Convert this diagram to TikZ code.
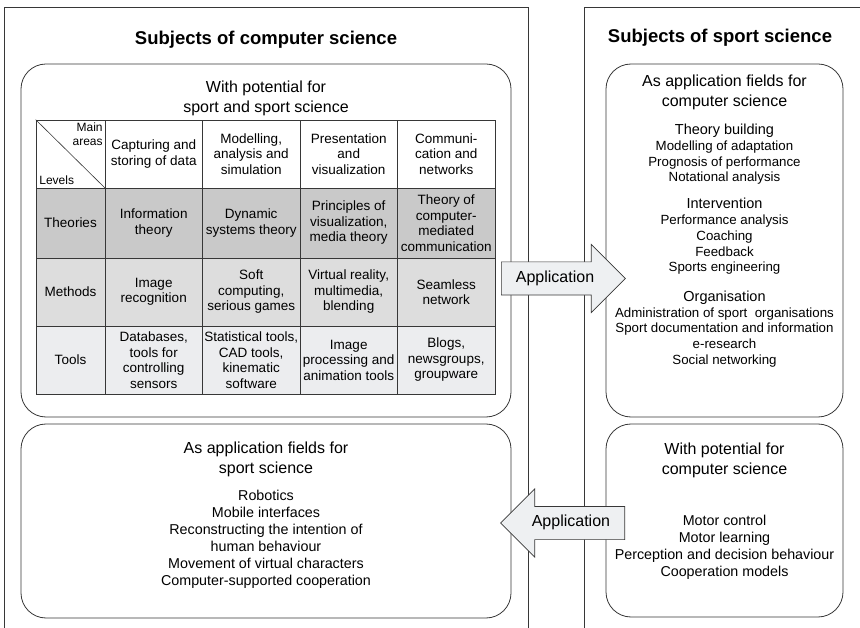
\documentclass[tikz,border=0pt]{standalone}
\usepackage{fontspec}
\setmainfont{Liberation Sans}
\usepackage{tikz}
\usetikzlibrary{shapes.arrows}
\definecolor{linegray}{RGB}{55,55,55}
\definecolor{theorygray}{RGB}{201,201,201}
\definecolor{methodgray}{RGB}{221,221,221}
\definecolor{toolgray}{RGB}{236,237,239}
\definecolor{arrowgray}{RGB}{238,240,242}
\newcommand{\titlefont}{\fontsize{18.5}{22}\bfseries\selectfont}
\newcommand{\headfont}{\fontsize{16}{20}\selectfont}
\newcommand{\cellfont}{\fontsize{13.5}{15.5}\selectfont}
\newcommand{\cornerfont}{\fontsize{12}{14}\selectfont}
\newcommand{\itemfont}{\fontsize{14.3}{17}\selectfont}
\newcommand{\smallitemfont}{\fontsize{13.3}{15.7}\selectfont}
\newcommand{\groupfont}{\fontsize{14.5}{15.7}\selectfont}

\begin{document}
\begin{tikzpicture}[
    x=1pt, y=-1pt,
    frame/.style={draw=linegray, line width=0.7pt},
    area/.style={draw=linegray, line width=0.8pt, rounded corners=25pt, inner sep=0pt},
    cell/.style={draw=linegray, line width=0.7pt, minimum width=97.5pt, minimum height=68pt, inner sep=0pt, align=center, font=\cellfont},
    apparrow/.style={single arrow, draw=linegray, fill=arrowgray, line width=0.7pt, font=\headfont,
        text height=11pt, text depth=3.5pt, inner xsep=6pt, inner ysep=9pt,
        single arrow head extend=17.5pt, single arrow tip angle=90, minimum height=124pt}
]
    \useasboundingbox (0,0) rectangle (860,628);

    % Frames
    \draw[frame] (4,628) |- (528,7) -- (528,628);
    \draw[frame] (584,628) |- (860,7);
    \node[font=\titlefont] (csTitle) at (266,40) {Subjects of computer science};
    \node[font=\titlefont] (ssTitle) at (720,38) {Subjects of sport science};

    % Boxes
    \node[area, minimum width=490pt, minimum height=353pt] (csPotential) at (266,240.5) {};
    \node[area, minimum width=490pt, minimum height=194pt] (csFields) at (266,521) {};
    \node[area, minimum width=237pt, minimum height=353pt] (ssFields) at (724.5,240.5) {};
    \node[area, minimum width=237pt, minimum height=193pt] (ssPotential) at (724.5,520.5) {};

    \node[font=\headfont, align=center] (csPotHead) at (266,98) {With potential for\\sport and sport science};

    % Table header
    \node[cell, minimum width=69pt] (corner) at (70.5,154) {};
    \draw[linegray, line width=0.6pt] (corner.north west) -- (corner.south east);
    \node[font=\cornerfont, align=right, anchor=north east, inner sep=2.5pt] (mainAreas) at (corner.north east) {Main\\areas};
    \node[font=\cornerfont, anchor=south west, inner sep=3.5pt] (levels) at (corner.south west) {Levels};
    \node[cell] (hdCapture) at (153.75,154) {Capturing and\\storing of data};
    \node[cell] (hdModel) at (251.25,154) {Modelling,\\analysis and\\simulation};
    \node[cell] (hdPresent) at (348.75,154) {Presentation\\and\\visualization};
    \node[cell] (hdComm) at (446.25,154) {Communi-\\cation and\\networks};

    % Theories
    \node[cell, fill=theorygray, minimum width=69pt, minimum height=70pt] (thLabel) at (70.5,223) {Theories};
    \node[cell, fill=theorygray, minimum height=70pt] (thCapture) at (153.75,223) {Information\\theory};
    \node[cell, fill=theorygray, minimum height=70pt] (thModel) at (251.25,223) {Dynamic\\systems theory};
    \node[cell, fill=theorygray, minimum height=70pt] (thPresent) at (348.75,223) {Principles of\\visualization,\\media theory};
    \node[cell, fill=theorygray, minimum height=70pt] (thComm) at (446.25,223) {Theory of\\computer-\\mediated\\communication};

    % Methods
    \node[cell, fill=methodgray, minimum width=69pt] (meLabel) at (70.5,292) {Methods};
    \node[cell, fill=methodgray] (meCapture) at (153.75,292) {Image\\recognition};
    \node[cell, fill=methodgray] (meModel) at (251.25,292) {Soft\\computing,\\serious games};
    \node[cell, fill=methodgray] (mePresent) at (348.75,292) {Virtual reality,\\multimedia,\\blending};
    \node[cell, fill=methodgray] (meComm) at (446.25,292) {Seamless\\network};

    % Tools
    \node[cell, fill=toolgray, minimum width=69pt] (toLabel) at (70.5,360) {Tools};
    \node[cell, fill=toolgray] (toCapture) at (153.75,360) {Databases,\\tools for\\controlling\\sensors};
    \node[cell, fill=toolgray] (toModel) at (251.25,360) {Statistical tools,\\CAD tools,\\kinematic\\software};
    \node[cell, fill=toolgray] (toPresent) at (348.75,360) {Image\\processing and\\animation tools};
    \node[cell, fill=toolgray] (toComm) at (446.25,360) {Blogs,\\newsgroups,\\groupware};

    % Application fields for sport science
    \node[font=\headfont, align=center] (csFieldsHead) at (266,459) {As application fields for\\sport science};
    \node[font=\itemfont, align=center] (csFieldsList) at (266,539.5) {Robotics\\Mobile interfaces\\Reconstructing the intention of\\human behaviour\\Movement of virtual characters\\Computer-supported cooperation};

    % Application fields for computer science
    \node[font=\headfont, align=center] (ssFieldsHead) at (724.5,92) {As application fields for\\computer science};
    \node[font=\smallitemfont, align=center] (theoryList) at (724.5,154.5) {{\groupfont Theory building}\\Modelling of adaptation\\Prognosis of performance\\Notational analysis};
    \node[font=\smallitemfont, align=center] (interList) at (724.5,236.5) {{\groupfont Intervention}\\Performance analysis\\Coaching\\Feedback\\Sports engineering};
    \node[font=\smallitemfont, align=center] (orgList) at (724.5,329) {{\groupfont Organisation}\\Administration of sport\ \ organisations\\Sport documentation and information\\e-research\\Social networking};

    % Potential for computer science
    \node[font=\headfont, align=center] (ssPotHead) at (724.5,460) {With potential for\\computer science};
    \node[font=\itemfont, align=center] (ssPotList) at (724.5,547) {Motor control\\Motor learning\\Perception and decision behaviour\\Cooperation models};

    % Application arrows
    \node[apparrow, anchor=tail] (appRight) at (501,278.5) {Application};
    \node[apparrow, shape border rotate=180, anchor=tail] (appLeft) at (625,523) {Application};
\end{tikzpicture}
\end{document}
